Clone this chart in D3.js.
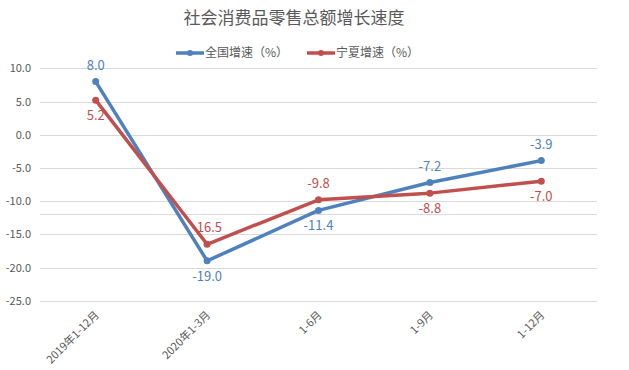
<!DOCTYPE html>
<html>
<head>
<meta charset="utf-8">
<script src="https://cdn.jsdelivr.net/npm/d3@7"></script>
<style>
  body { margin: 0; background: #fff; }
  text { font-family: "Noto Sans CJK SC", "DejaVu Sans", sans-serif; }
</style>
</head>
<body>
<svg id="chart"></svg>
<script>
const categories = ["2019年1-12月", "2020年1-3月", "1-6月", "1-9月", "1-12月"];
const national = [8.0, -19.0, -11.4, -7.2, -3.9];
const ningxia = [5.2, -16.5, -9.8, -8.8, -7.0];
const yTicks = [10, 5, 0, -5, -10, -15, -20, -25];
const extraLine = -12;   // 원본에 있는 여분의 가로선
// 라벨 위치: 1 = 위, -1 = 아래
const nationalPos = [1, -1, -1, 1, 1];
const ningxiaPos = [-1, 1, 1, -1, -1];

const width = 629, height = 370;
const plotLeft = 40, plotRight = 597, plotTop = 68.3, plotBottom = 300.7;

// d3.format은 유니코드 마이너스를 쓰므로 하이픈으로 바꿈
const fmt = d => d3.format(".1f")(d).replace("\u2212", "-");

const svg = d3.select("#chart")
  .attr("width", width)
  .attr("height", height);

const x = d3.scaleBand()
  .domain(categories)
  .range([plotLeft, plotRight]);

const y = d3.scaleLinear()
  .domain([-25, 10])
  .range([plotBottom, plotTop]);

// gridlines
svg.append("g")
  .selectAll("line")
  .data(yTicks.concat([extraLine]))
  .enter()
  .append("line")
  .attr("x1", plotLeft)
  .attr("x2", plotRight)
  .attr("y1", d => Math.round(y(d)) + 0.5)
  .attr("y2", d => Math.round(y(d)) + 0.5)
  .attr("stroke", "#d9d9d9")
  .attr("stroke-width", 1);

// y axis labels
svg.append("g")
  .attr("transform", "translate(" + plotLeft + ",0)")
  .call(d3.axisLeft(y).tickValues(yTicks).tickFormat(fmt).tickSize(0).tickPadding(9))
  .call(g => g.select(".domain").remove())
  .selectAll("text")
  .attr("fill", "#595959")
  .style("font-size", "11px");

// x axis labels
svg.append("g")
  .attr("transform", "translate(0," + plotBottom + ")")
  .call(d3.axisBottom(x).tickSize(0).tickPadding(0))
  .call(g => g.select(".domain").remove())
  .selectAll("text")
  .attr("fill", "#595959")
  .style("font-size", "11px")
  .attr("text-anchor", "end")
  .attr("dy", "0")
  .attr("transform", "translate(4,15) rotate(-45)");

const series = [
  { name: "全国增速（%）", values: national, pos: nationalPos, color: "#4f81bd" },
  { name: "宁夏增速（%）", values: ningxia, pos: ningxiaPos, color: "#c0504d" }
];

const line = d3.line()
  .x((d, i) => x(categories[i]) + x.bandwidth() / 2)
  .y(d => y(d));

series.forEach(s => {
  svg.append("path")
    .attr("d", line(s.values))
    .attr("fill", "none")
    .attr("stroke", s.color)
    .attr("stroke-width", 3.5)
    .attr("stroke-linejoin", "round");

  svg.append("g")
    .selectAll("circle")
    .data(s.values)
    .enter()
    .append("circle")
    .attr("cx", (d, i) => x(categories[i]) + x.bandwidth() / 2)
    .attr("cy", d => y(d))
    .attr("r", 3.5)
    .attr("fill", s.color);

  svg.append("g")
    .selectAll("text")
    .data(s.values)
    .enter()
    .append("text")
    .attr("x", (d, i) => x(categories[i]) + x.bandwidth() / 2)
    .attr("y", (d, i) => y(d) + (s.pos[i] > 0 ? -12 : 20))
    .attr("text-anchor", "middle")
    .attr("fill", s.color)
    .style("font-size", "13px")
    .text(fmt);
});

// title
svg.append("text")
  .attr("x", 294)
  .attr("y", 24)
  .attr("text-anchor", "middle")
  .attr("fill", "#595959")
  .style("font-size", "17px")
  .text("社会消费品零售总额增长速度");

// legend
const legendX = [176, 307];
series.forEach((s, i) => {
  const g = svg.append("g").attr("transform", "translate(" + legendX[i] + ",53)");
  g.append("line")
    .attr("x1", 0).attr("x2", 28)
    .attr("y1", 0).attr("y2", 0)
    .attr("stroke", s.color)
    .attr("stroke-width", 3.5);
  g.append("circle").attr("cx", 14).attr("cy", 0).attr("r", 3).attr("fill", s.color);
  g.append("text")
    .attr("x", 29)
    .attr("y", 4)
    .attr("fill", "#595959")
    .style("font-size", "12px")
    .text(s.name);
});
</script>
</body>
</html>
